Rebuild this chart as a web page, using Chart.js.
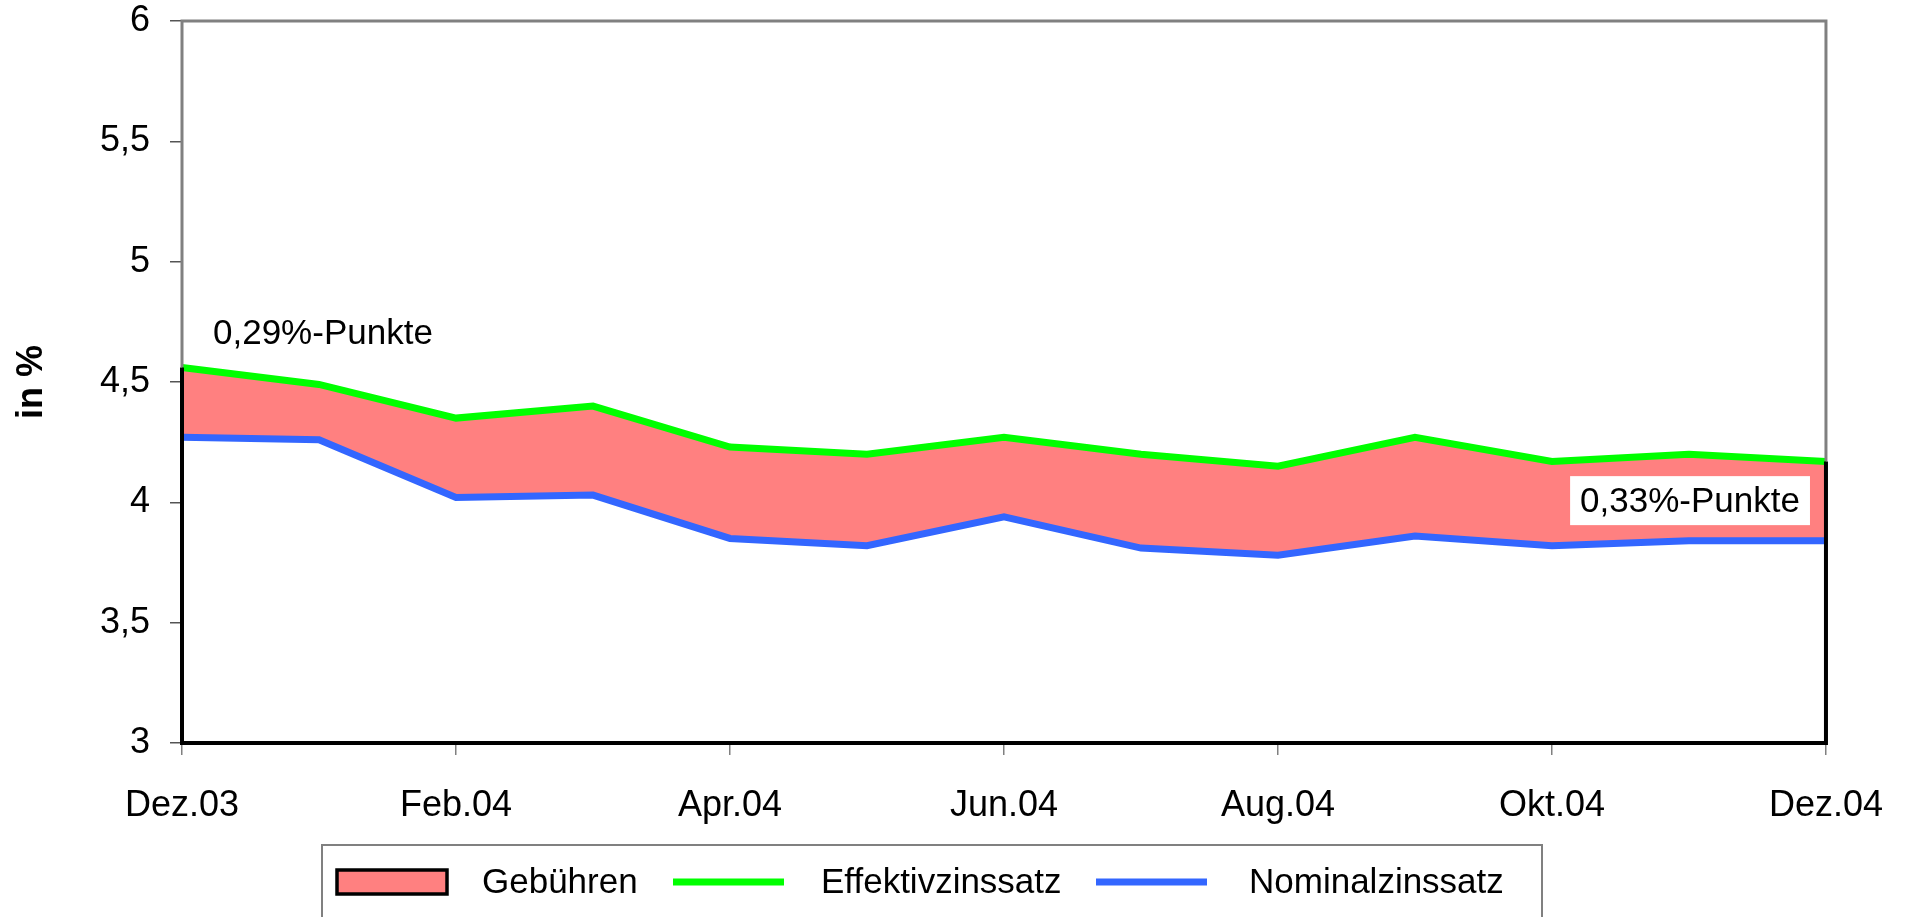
<!DOCTYPE html>
<html>
<head>
<meta charset="utf-8">
<script src="https://cdn.jsdelivr.net/npm/chart.js@4.4.0/dist/chart.umd.min.js"></script>
<style>
html, body { margin: 0; padding: 0; background: #fff; overflow: hidden; }
#wrap { width: 1912px; height: 917px; position: relative; }
</style>
</head>
<body>
<div id="wrap"><canvas id="chart" width="1912" height="917"></canvas></div>
<script>
// data
const months = ['Dez.03', 'Jan.04', 'Feb.04', 'Mär.04', 'Apr.04', 'Mai.04', 'Jun.04',
                'Jul.04', 'Aug.04', 'Sep.04', 'Okt.04', 'Nov.04', 'Dez.04'];
const effektiv = [4.56, 4.49, 4.35, 4.40, 4.23, 4.20, 4.27, 4.20, 4.15, 4.27, 4.17, 4.20, 4.17];
const nominal = [4.27, 4.26, 4.02, 4.03, 3.85, 3.82, 3.94, 3.81, 3.78, 3.86, 3.82, 3.84, 3.84];
const yTicks = [3, 3.5, 4, 4.5, 5, 5.5, 6];
const seriesNames = ['Gebühren', 'Effektivzinssatz', 'Nominalzinssatz'];
const notes = ['0,29%-Punkte', '0,33%-Punkte'];

const FONT = "'Liberation Sans', Arial, sans-serif";
const TICK_SIZE = 36;
const TEXT_SIZE = 35;
const GREY = '#808080';

// plot frame: grey on top, black where the fee area touches the edges
const framePlugin = {
    id: 'frame',
    afterDatasetsDraw(chart) {
        const { ctx, chartArea: a, scales } = chart;
        const x0 = scales.x.getPixelForValue(0);
        const x1 = scales.x.getPixelForValue(months.length - 1);
        const yl = scales.y.getPixelForValue(effektiv[0]);
        const yr = scales.y.getPixelForValue(effektiv[effektiv.length - 1]);
        ctx.save();
        ctx.lineCap = 'butt';
        ctx.strokeStyle = GREY;
        ctx.lineWidth = 3;
        ctx.beginPath();
        ctx.moveTo(x0, yl); ctx.lineTo(x0, a.top); ctx.lineTo(x1, a.top); ctx.lineTo(x1, yr);
        ctx.stroke();
        ctx.strokeStyle = '#000';
        ctx.lineWidth = 4;
        ctx.beginPath();
        ctx.moveTo(x0, yl); ctx.lineTo(x0, a.bottom); ctx.lineTo(x1, a.bottom); ctx.lineTo(x1, yr);
        ctx.stroke();
        ctx.restore();
    }
};

// the two "%-Punkte" notes, anchored to first and last month
const notesPlugin = {
    id: 'notes',
    afterDraw(chart) {
        const { ctx, scales } = chart;
        const last = months.length - 1;
        ctx.save();
        ctx.font = TEXT_SIZE + 'px ' + FONT;
        ctx.fillStyle = '#000';
        ctx.textBaseline = 'middle';
        ctx.textAlign = 'left';
        ctx.fillText(notes[0], scales.x.getPixelForValue(0) + 31,
            scales.y.getPixelForValue(effektiv[0]) - 33);

        const xr = scales.x.getPixelForValue(last) - 26;
        const ym = (scales.y.getPixelForValue(effektiv[last]) + scales.y.getPixelForValue(nominal[last])) / 2;
        const w = ctx.measureText(notes[1]).width;
        ctx.fillStyle = '#fff';
        ctx.fillRect(xr - w - 10, ym - 25, w + 20, 49);
        ctx.fillStyle = '#000';
        ctx.textAlign = 'right';
        ctx.fillText(notes[1], xr, ym + 1);
        ctx.restore();
    }
};

// legend box under the plot
const legendPlugin = {
    id: 'boxLegend',
    afterDraw(chart) {
        const { ctx } = chart;
        const ds = chart.data.datasets;
        const left = 322, top = 845, right = 1542, cy = 882;
        const keyX = [337, 673, 1096];
        const textX = [482, 821, 1249];
        ctx.save();
        ctx.strokeStyle = GREY;
        ctx.lineWidth = 2;
        ctx.strokeRect(left, top, right - left, 120);

        ctx.font = TEXT_SIZE + 'px ' + FONT;
        ctx.textBaseline = 'middle';
        ctx.textAlign = 'left';
        // area swatch
        ctx.fillStyle = ds[0].backgroundColor;
        ctx.fillRect(keyX[0], cy - 12, 110, 24);
        ctx.strokeStyle = '#000';
        ctx.lineWidth = 3.5;
        ctx.strokeRect(keyX[0], cy - 12, 110, 24);
        for (let i = 1; i < 3; i++) {
            ctx.strokeStyle = ds[i].borderColor;
            ctx.lineWidth = 7;
            ctx.beginPath();
            ctx.moveTo(keyX[i], cy);
            ctx.lineTo(keyX[i] + 111, cy);
            ctx.stroke();
        }
        ctx.fillStyle = '#000';
        for (let i = 0; i < 3; i++) ctx.fillText(ds[i].label, textX[i], cy + 1);
        ctx.restore();
    }
};

const ctx = document.getElementById('chart').getContext('2d');
new Chart(ctx, {
    type: 'line',
    data: {
        labels: months,
        datasets: [{
            label: seriesNames[0],
            data: effektiv,
            fill: 2,
            backgroundColor: '#FF8080',
            borderWidth: 0,
            pointRadius: 0,
            order: 3
        }, {
            label: seriesNames[1],
            data: effektiv,
            borderColor: '#00FF00',
            borderWidth: 7,
            pointRadius: 0,
            fill: false,
            order: 1
        }, {
            label: seriesNames[2],
            data: nominal,
            borderColor: '#3366FF',
            borderWidth: 7,
            pointRadius: 0,
            fill: false,
            order: 2
        }]
    },
    options: {
        responsive: false,
        animation: false,
        devicePixelRatio: 1,
        layout: { padding: { left: 0, top: 21, right: 86, bottom: 0 } },
        plugins: {
            legend: { display: false },
            tooltip: { enabled: false }
        },
        scales: {
            x: {
                type: 'category',
                offset: false,
                border: { display: false },
                grid: { drawOnChartArea: false, drawTicks: true, tickLength: 12, color: GREY, lineWidth: 1.5 },
                ticks: {
                    autoSkip: false,
                    maxRotation: 0,
                    color: '#000',
                    padding: 29,
                    font: { family: FONT, size: TICK_SIZE },
                    callback: (v, i) => (i % 2 === 0 ? months[i] : null)
                },
                afterFit: (s) => { s.height = 174; }
            },
            y: {
                min: yTicks[0],
                max: yTicks[yTicks.length - 1],
                border: { display: false },
                afterBuildTicks: (s) => { s.ticks = yTicks.map(v => ({ value: v })); },
                grid: { drawOnChartArea: false, drawTicks: true, tickLength: 12, color: '#555', lineWidth: 1.5 },
                ticks: {
                    color: '#000',
                    padding: 20,
                    font: { family: FONT, size: TICK_SIZE },
                    callback: (v) => String(v).replace('.', ',')
                },
                title: {
                    display: true,
                    text: 'in %',
                    color: '#000',
                    font: { family: FONT, size: 36, weight: 'bold' },
                    padding: { top: 10, bottom: 0 }
                },
                afterFit: (s) => {
                    s.width = 182;
                    s.paddingTop = 0;
                    s.paddingBottom = 0;
                }
            }
        }
    },
    plugins: [framePlugin, notesPlugin, legendPlugin]
});
</script>
</body>
</html>
